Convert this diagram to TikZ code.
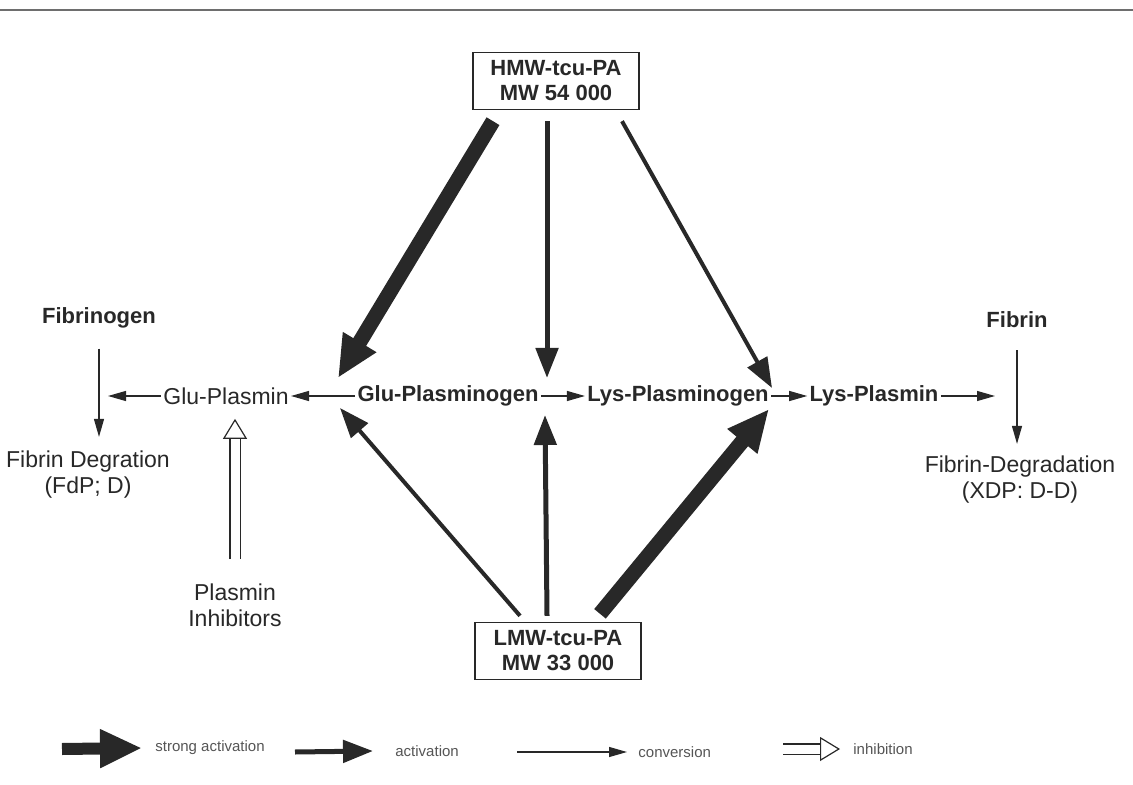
\documentclass[tikz,border=0pt]{standalone}
\usepackage{fontspec}
\setmainfont{Liberation Sans}
\usepackage{tikz}
\usetikzlibrary{
    arrows.meta,
    positioning,
    calc
}
\definecolor{inkgray}{RGB}{40,40,40}
\definecolor{rulegray}{RGB}{110,110,110}
\definecolor{legendgray}{RGB}{85,85,85}
\tikzset{
    % Labels
    species/.style={
        inner sep=1pt,
        font=\fontsize{11}{13}\selectfont\bfseries,
        text=inkgray
    },
    product/.style={
        inner sep=1pt,
        align=center,
        font=\fontsize{11.5}{13}\selectfont,
        text=inkgray
    },
    enzyme/.style={
        rectangle,
        draw=inkgray,
        line width=0.7pt,
        minimum width=83pt,
        minimum height=28.5pt,
        align=center,
        font=\fontsize{11}{12.5}\selectfont\bfseries,
        text=inkgray
    },
    legendtext/.style={
        anchor=west,
        inner sep=0pt,
        font=\fontsize{7.5}{9}\selectfont,
        text=legendgray
    },
    % Arrows
    strongact/.style={
        -{Triangle[length=21pt, width=18pt]},
        line width=7.5pt,
        draw=inkgray
    },
    activation/.style={
        -{Triangle[length=15pt, width=11pt]},
        line width=2.5pt,
        draw=inkgray
    },
    conversion/.style={
        -{Triangle[length=9pt, width=5pt]},
        line width=0.6pt,
        draw=inkgray
    },
    inhibit/.style={
        -{Triangle[open, length=10pt, width=12pt]},
        double=white,
        double distance=4.5pt,
        line width=0.6pt,
        draw=inkgray
    }
}

\begin{document}
\begin{tikzpicture}[x=0.5pt, y=-0.5pt]

    \useasboundingbox (0,0) rectangle (1133,785);

    % Rule at the top
    \draw[rulegray, line width=0.6pt] (0,10) -- (1133,10);

    % Activators
    \node[enzyme] (hmw) at (556,81) {HMW-tcu-PA\\MW 54 000};
    \node[enzyme] (lmw) at (558,651) {LMW-tcu-PA\\MW 33 000};

    % Plasminogen / plasmin row
    \node[product] (gluplasmin) at (226,396) {Glu-Plasmin};
    \node[species] (glupg) at (448,396) {Glu-Plasminogen};
    \node[species] (lyspg) at (678,396) {Lys-Plasminogen};
    \node[species] (lysplasmin) at (874,396) {Lys-Plasmin};
    \coordinate (gluout) at (108,396);
    \coordinate (lysout) at (995,396);

    % Substrates and products
    \node[species] (fibrinogen) at (99,318) {Fibrinogen};
    \node[product] (fdeg) at (88,475) {Fibrin Degration\\(FdP; D)};
    \node[species] (fibrin) at (1017,320) {Fibrin};
    \node[product] (xdeg) at (1020,480) {Fibrin-Degradation\\(XDP: D-D)};
    \node[product] (inhib) at (235,605) {Plasmin\\Inhibitors};

    % HMW-tcu-PA
    \draw[strongact] ($(hmw.south)+(-63,11)$) -- ($(glupg)+(-110,-18)$);
    \draw[activation] ($(hmw.south)+(-9,11)$) -- ($(glupg)+(99,-18)$);
    \draw[activation, line width=2pt] ($(hmw.south)+(66,11)$) -- ($(lyspg)+(94,-8)$);

    % LMW-tcu-PA
    \draw[activation, line width=2pt] ($(lmw.north)+(-38,-6)$) -- ($(glupg)+(-108,12)$);
    \draw[activation] ($(lmw.north)+(-11,-6)$) -- ($(glupg)+(97,19)$);
    \draw[strongact] ($(lmw.north)+(42,-8)$) -- ($(lyspg)+(91,13)$);

    % Conversions along the row
    \draw[conversion] (glupg.west) -- (gluplasmin.east);
    \draw[conversion] (glupg.east) -- (lyspg.west);
    \draw[conversion] (lyspg.east) -- (lysplasmin.west);
    \draw[conversion] (lysplasmin.east) -- (lysout);
    \draw[conversion] (gluplasmin.west) -- (gluout);

    % Degradation
    \draw[conversion, shorten <=9pt, shorten >=6pt] (fibrinogen.south) -- (fibrinogen.south |- fdeg.north);
    \draw[conversion, shorten <=10pt, shorten >=5pt] (fibrin.south) -- (fibrin.south |- xdeg.north);

    % Inhibition
    \draw[inhibit, shorten <=11pt, shorten >=6pt] (inhib.north) -- (inhib.north |- gluplasmin.south);

    % Legend
    \node[legendtext] (lgstrong) at (155,748) {strong activation};
    \node[legendtext] (lgact) at (395,751) {activation};
    \node[legendtext] (lgconv) at (638,752) {conversion};
    \node[legendtext] (lginhib) at (853,749) {inhibition};
    \coordinate (lgs) at (62,749);
    \coordinate (lga) at (295,752);
    \coordinate (lgc) at (517,752);
    \coordinate (lgi) at (783,749);
    \draw[strongact, line width=6pt] (lgs) -- ($(lgstrong.west)+(-13,0)$);
    \draw[activation] (lga) -- ($(lgact.west)+(-22,0)$);
    \draw[conversion] (lgc) -- ($(lgconv.west)+(-11,0)$);
    \draw[inhibit] (lgi) -- ($(lginhib.west)+(-13,0)$);

\end{tikzpicture}
\end{document}
